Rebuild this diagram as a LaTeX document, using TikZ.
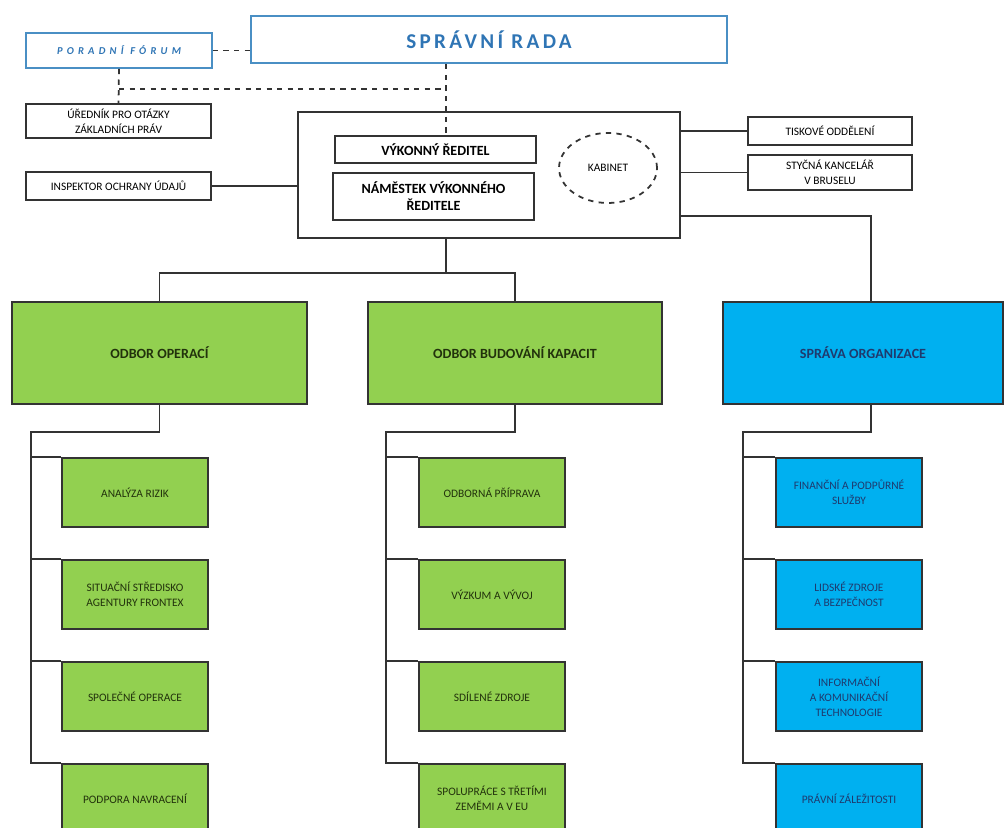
\documentclass[tikz,border=0pt]{standalone}
\usepackage{fontspec}
\setmainfont{Carlito}
\usepackage{tikz}
\usetikzlibrary{shapes}

\definecolor{zelena}{HTML}{92D050}
\definecolor{modra}{HTML}{00B0F0}
\definecolor{radaram}{HTML}{4A8FC4}
\definecolor{radatext}{HTML}{2F75B5}
\definecolor{cara}{HTML}{333333}
\definecolor{zelenytext}{HTML}{22320C}
\definecolor{modrytext}{HTML}{1F3A6E}

\begin{document}
\begin{tikzpicture}[x=0.02cm, y=-0.02cm, line width=1pt, draw=cara,
	every node/.style={inner sep=0pt, align=center, font=\fontsize{6.5}{8.5}\selectfont},
	ramecek/.style={rectangle, draw, fill=white},
	odbor/.style={rectangle, draw, fill=zelena, minimum height=2.04cm, text=zelenytext, font=\fontsize{8}{9.6}\selectfont\bfseries},
	oddeleni/.style={rectangle, draw, fill=zelena, minimum width=2.92cm, minimum height=1.38cm, text=zelenytext},
	sekce/.style={oddeleni, fill=modra, text=modrytext}]
	\clip (0,0) rectangle (1008,828);
	%Board
	\node [rectangle, draw=radaram, line width=1.4pt, fill=white, minimum width=9.52cm, minimum height=0.94cm, text=radatext, font=\fontsize{12}{14}\selectfont\bfseries\addfontfeatures{LetterSpace=16}] (rada) at (489,39.5) {SPRÁVNÍ RADA};
	\node [rectangle, draw=radaram, line width=1.1pt, fill=white, minimum width=3.72cm, minimum height=0.70cm, text=radatext, font=\fontsize{6}{7}\selectfont\bfseries\itshape\addfontfeatures{LetterSpace=40}] (forum) at (119,50.5) {PORADNÍ FÓRUM};
	\draw[dashed] (forum.east) -- (forum.east -| rada.west);
	%Officers on the left
	\node [ramecek, minimum width=3.70cm, minimum height=0.68cm] (urednik) at (118.5,121) {ÚŘEDNÍK PRO OTÁZKY\\ZÁKLADNÍCH PRÁV};
	\node [ramecek, minimum width=3.70cm, minimum height=0.56cm] (inspektor) at (118.5,186) {INSPEKTOR OCHRANY ÚDAJŮ};
	%Management
	\node [ramecek, minimum width=7.64cm, minimum height=2.52cm] (vedeni) at (489,175) {};
	\node [ramecek, minimum width=4.02cm, minimum height=0.54cm, font=\fontsize{8}{9.6}\selectfont\bfseries] (vykonny) at (435.5,149.5) {VÝKONNÝ ŘEDITEL};
	\node [ramecek, minimum width=4.02cm, minimum height=0.94cm, font=\fontsize{8}{9.6}\selectfont\bfseries] (namestek) at (433.5,196.5) {NÁMĚSTEK VÝKONNÉHO\\ŘEDITELE};
	\node [ellipse, draw, dashed, minimum width=1.96cm, minimum height=1.40cm] (kabinet) at (608,168) {KABINET};
	%Dashed links
	\coordinate (radapata) at (446,89);
	\draw[dashed] (rada.south -| radapata) -- (vykonny.north -| radapata);
	\draw[dashed] (forum.south) -- (urednik.north);
	\draw[dashed] (forum.south |- radapata) -- (radapata);
	\draw (inspektor.east) -- (inspektor.east -| vedeni.west);
	%Offices on the right
	\node [ramecek, minimum width=3.28cm, minimum height=0.56cm] (tiskove) at (830,131) {TISKOVÉ ODDĚLENÍ};
	\node [ramecek, minimum width=3.28cm, minimum height=0.70cm] (styc) at (830,172.5) {STYČNÁ KANCELÁŘ\\V BRUSELU};
	\draw (tiskove.west -| vedeni.east) -- (tiskove.west);
	\draw (styc.west -| vedeni.east) -- (styc.west);
	%Divisions
	\node [odbor, minimum width=5.90cm] (operaci) at (159.5,353) {ODBOR OPERACÍ};
	\node [odbor, minimum width=5.88cm] (budovani) at (515,353) {ODBOR BUDOVÁNÍ KAPACIT};
	\node [odbor, minimum width=5.60cm, fill=modra, text=modrytext] (sprava) at (863,353) {SPRÁVA ORGANIZACE};
	\coordinate (osa) at (446,273);
	\draw (vedeni.south -| osa) -- (osa);
	\draw (operaci.north) |- (osa) -| (budovani.north);
	\coordinate (koleno) at (871,216);
	\draw (vedeni.east |- koleno) -- (koleno) -- (sprava.north -| koleno);
	%Units of operations
	\node [oddeleni] (rizika) at (135,492.5) {ANALÝZA RIZIK};
	\node [oddeleni] (stredisko) at (135,594.5) {SITUAČNÍ STŘEDISKO\\AGENTURY FRONTEX};
	\node [oddeleni] (spolecne) at (135,696.5) {SPOLEČNÉ OPERACE};
	\node [oddeleni] (navraceni) at (135,798.5) {PODPORA NAVRACENÍ};
	\coordinate (op) at (31,432);
	\draw (operaci.south) |- (op) |- (rizika.north west);
	\draw (op) |- (stredisko.north west);
	\draw (op) |- (spolecne.north west);
	\draw (op) |- (navraceni.north west);
	%Units of capacity building
	\node [oddeleni] (priprava) at (492,492.5) {ODBORNÁ PŘÍPRAVA};
	\node [oddeleni] (vyzkum) at (492,594.5) {VÝZKUM A VÝVOJ};
	\node [oddeleni] (zdroje) at (492,696.5) {SDÍLENÉ ZDROJE};
	\node [oddeleni] (spoluprace) at (492,798.5) {SPOLUPRÁCE S TŘETÍMI\\ZEMĚMI A V EU};
	\coordinate (bk) at (386,432);
	\draw (budovani.south) |- (bk) |- (priprava.north west);
	\draw (bk) |- (vyzkum.north west);
	\draw (bk) |- (zdroje.north west);
	\draw (bk) |- (spoluprace.north west);
	%Units of administration
	\node [sekce] (financni) at (849,492.5) {FINANČNÍ A PODPŮRNÉ\\SLUŽBY};
	\node [sekce] (lidske) at (849,594.5) {LIDSKÉ ZDROJE\\A BEZPEČNOST};
	\node [sekce] (ikt) at (849,696.5) {INFORMAČNÍ\\A KOMUNIKAČNÍ\\TECHNOLOGIE};
	\node [sekce] (pravni) at (849,798.5) {PRÁVNÍ ZÁLEŽITOSTI};
	\coordinate (so) at (743,432);
	\draw (sprava.south -| koleno) |- (so) |- (financni.north west);
	\draw (so) |- (lidske.north west);
	\draw (so) |- (ikt.north west);
	\draw (so) |- (pravni.north west);
\end{tikzpicture}
\end{document}
